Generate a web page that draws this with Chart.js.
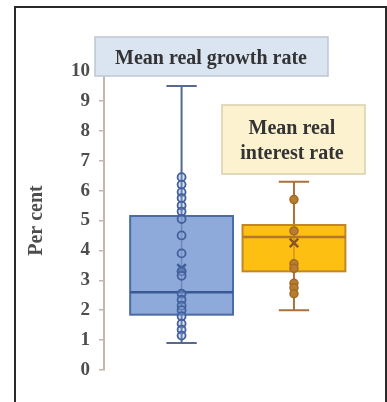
<!DOCTYPE html>
<html>
<head>
<meta charset="utf-8">
<script src="https://cdn.jsdelivr.net/npm/chart.js@4.4.1/dist/chart.umd.min.js"></script>
<style>
  html, body { margin: 0; padding: 0; background: #ffffff; }
  #wrap { position: relative; width: 387px; height: 402px; overflow: hidden; }
  #frame { position: absolute; left: 14px; top: 6px; width: 373px; height: 420px; box-sizing: border-box; border: 2px solid #2a2a2a; pointer-events: none; }
  canvas { position: absolute; left: 0; top: 0; }
</style>
</head>
<body>
<div id="wrap">
  <canvas id="c" width="387" height="402"></canvas>
  <div id="frame"></div>
</div>
<script>
// ---- Data ----
const categories = ['Mean real growth rate', 'Mean real interest rate'];
const boxLow = [0.9, 2.0];        // lower whisker
const boxQ1 = [1.85, 3.3];
const boxMedian = [2.6, 4.45];
const boxQ3 = [5.15, 4.85];
const boxHigh = [9.5, 6.3];       // upper whisker
const boxMean = [3.4, 4.25];
const growthPoints = [6.45, 6.2, 5.95, 5.75, 5.5, 5.3, 5.05, 4.5, 3.9, 3.3, 3.15, 2.55, 2.35, 2.15, 2.0, 1.8, 1.55, 1.35, 1.15];
const interestPoints = [5.7, 4.65, 3.55, 3.4, 2.9, 2.75, 2.55];
const yTickValues = [0, 1, 2, 3, 4, 5, 6, 7, 8, 9, 10];
const yAxisTitle = 'Per cent';

// ---- Styles ----
const boxStyles = [
  { fill: '#8eaadb', border: '#4b6ba8', median: '#3a5893', whisker: '#56698f', point: '#41609e' },
  { fill: '#fdbf12', border: '#c2862a', median: '#b3772a', whisker: '#a8733a', point: '#b97d2e' }
];
const xPos = [1, 2];
const boxWidth = 0.915;
const capWidth = 0.27;

const boxPlugin = {
  id: 'boxes',
  beforeDatasetsDraw(chart) {
    const { ctx } = chart;
    const x = chart.scales.x, y = chart.scales.y;
    categories.forEach((cat, i) => {
      const s = boxStyles[i];
      const cx = x.getPixelForValue(xPos[i]);
      const hw = (x.getPixelForValue(xPos[i] + boxWidth / 2) - x.getPixelForValue(xPos[i] - boxWidth / 2)) / 2;
      const cw = (x.getPixelForValue(xPos[i] + capWidth / 2) - x.getPixelForValue(xPos[i] - capWidth / 2)) / 2;
      const yl = y.getPixelForValue(boxLow[i]);
      const yh = y.getPixelForValue(boxHigh[i]);
      const y1 = y.getPixelForValue(boxQ1[i]);
      const y3 = y.getPixelForValue(boxQ3[i]);
      const ym = y.getPixelForValue(boxMedian[i]);
      ctx.save();
      // whisker
      ctx.strokeStyle = s.whisker;
      ctx.lineWidth = 2;
      ctx.beginPath();
      ctx.moveTo(cx, yl); ctx.lineTo(cx, yh);
      ctx.moveTo(cx - cw, yl); ctx.lineTo(cx + cw, yl);
      ctx.moveTo(cx - cw, yh); ctx.lineTo(cx + cw, yh);
      ctx.stroke();
      // box
      ctx.fillStyle = s.fill;
      ctx.fillRect(cx - hw, y3, 2 * hw, y1 - y3);
      ctx.strokeStyle = s.border;
      ctx.lineWidth = 2;
      ctx.strokeRect(cx - hw, y3, 2 * hw, y1 - y3);
      // median
      ctx.strokeStyle = s.median;
      ctx.lineWidth = 2.5;
      ctx.beginPath();
      ctx.moveTo(cx - hw, ym); ctx.lineTo(cx + hw, ym);
      ctx.stroke();
      // faint whisker continuation through box
      ctx.strokeStyle = s.whisker;
      ctx.globalAlpha = 0.55;
      ctx.lineWidth = 1.5;
      ctx.beginPath();
      ctx.moveTo(cx, y3); ctx.lineTo(cx, y1);
      ctx.stroke();
      ctx.restore();
    });
  },
  afterDatasetsDraw(chart) {
    const { ctx } = chart;
    ctx.save();
    // label box: growth
    ctx.fillStyle = '#dbe5f2';
    ctx.fillRect(95, 37, 233, 39);
    ctx.strokeStyle = '#bcc6d4';
    ctx.lineWidth = 1.5;
    ctx.strokeRect(95, 37, 233, 39);
    ctx.fillStyle = '#333333';
    ctx.font = 'bold 20px "Liberation Serif", serif';
    ctx.textAlign = 'center';
    ctx.textBaseline = 'middle';
    ctx.fillText(categories[0], 211, 59);
    // label box: interest
    ctx.fillStyle = '#fcf2cf';
    ctx.fillRect(222, 105, 143, 69);
    ctx.strokeStyle = '#d9d0ab';
    ctx.strokeRect(222, 105, 143, 69);
    ctx.fillStyle = '#333333';
    ctx.fillText('Mean real', 292, 129);
    ctx.fillText('interest rate', 292, 154);
    ctx.restore();
  }
};

const xMin = 1 - 78 / 113;
const xMax = xMin + 276 / 113;

new Chart(document.getElementById('c'), {
  type: 'scatter',
  data: {
    datasets: [
      {
        label: categories[0] + ' points',
        data: growthPoints.map(v => ({ x: xPos[0], y: v })),
        pointRadius: 4,
        pointBorderWidth: 1.8,
        pointBorderColor: boxStyles[0].point,
        pointBackgroundColor: 'rgba(142,170,219,0.35)'
      },
      {
        label: categories[1] + ' points',
        data: interestPoints.map(v => ({ x: xPos[1], y: v })),
        pointRadius: 4,
        pointBorderWidth: 1.5,
        pointBorderColor: '#a0692a',
        pointBackgroundColor: boxStyles[1].point
      },
      {
        label: 'Means',
        data: boxMean.map((v, i) => ({ x: xPos[i], y: v })),
        pointStyle: 'crossRot',
        pointRadius: 6,
        pointBorderWidth: 2.5,
        pointBorderColor: ['#3e5d99', '#8a5424']
      }
    ]
  },
  options: {
    responsive: false,
    devicePixelRatio: 1,
    animation: false,
    layout: { padding: { left: 0, right: 7, top: 71, bottom: 32 } },
    plugins: { legend: { display: false }, tooltip: { enabled: false } },
    scales: {
      x: { type: 'linear', display: false, min: xMin, max: xMax },
      y: {
        type: 'linear',
        min: 0, max: 10,
        afterBuildTicks: (scale) => { scale.ticks = yTickValues.map(v => ({ value: v })); },
        afterFit: (scale) => { scale.width = 104; },
        ticks: {
          stepSize: 1,
          padding: 9,
          color: '#4d4d4d',
          font: { family: '"Liberation Serif", serif', size: 19, weight: 'bold' }
        },
        grid: { display: true, drawOnChartArea: false, drawTicks: true, tickLength: 5, color: '#c4b6ae', lineWidth: 1.5 },
        border: { display: true, color: '#c4b6ae', width: 2 },
        title: {
          display: true,
          text: yAxisTitle,
          color: '#4d4d4d',
          padding: { top: 25, bottom: 0 },
          font: { family: '"Liberation Serif", serif', size: 20, weight: 'bold' }
        }
      }
    }
  },
  plugins: [boxPlugin]
});
</script>
</body>
</html>
